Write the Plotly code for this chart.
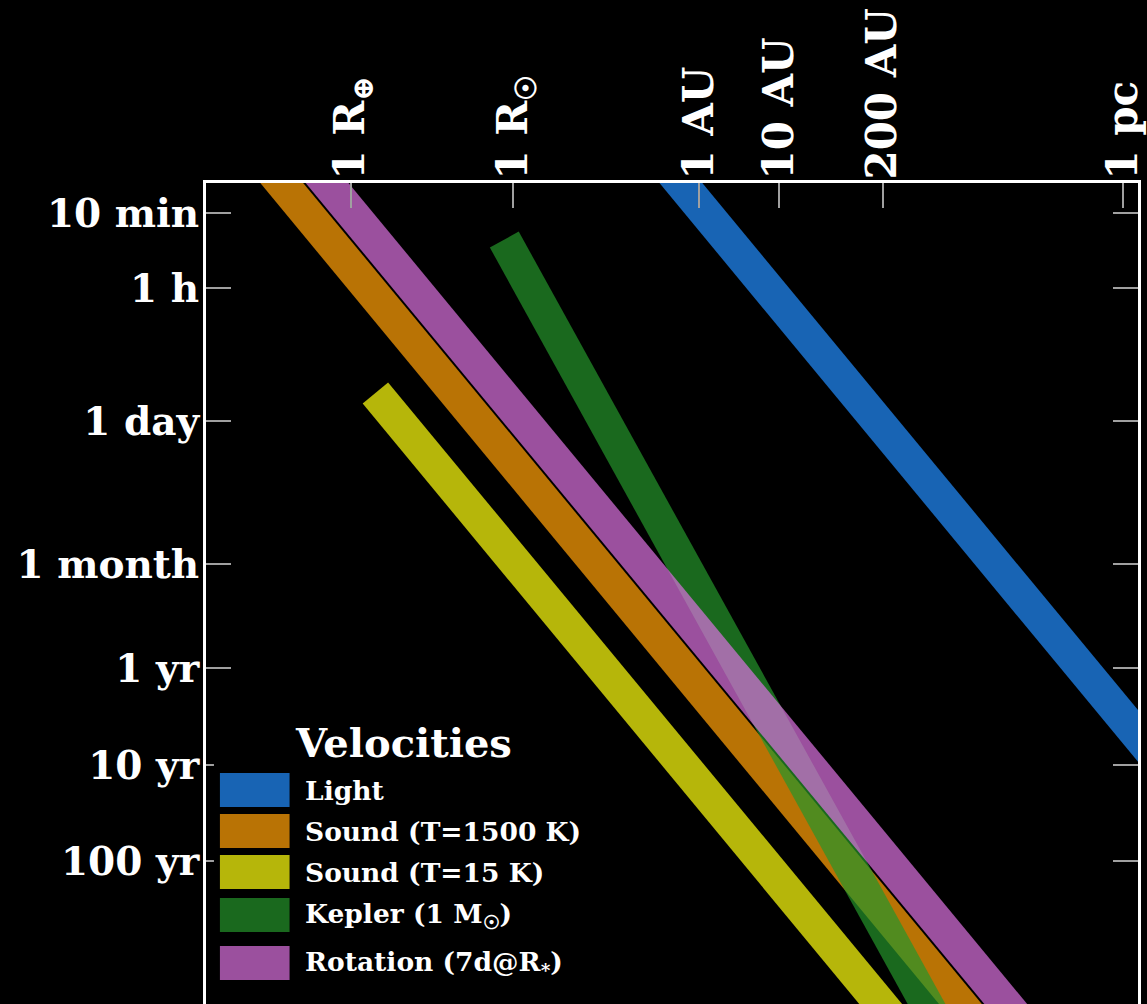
import plotly.graph_objects as go

# ---------------- data ----------------
# distance axis ticks (metres)
dist_tick_m = [6.371e6, 6.957e8, 1.496e11, 1.496e12, 2.992e13, 3.086e16]
dist_tick_labels = ["1 R<sub>⊕</sub>", "1 R<sub>☉</sub>", "1 AU", "10 AU", "200 AU", "1 pc"]

# time axis ticks (seconds)
time_tick_s = [600, 3600, 86400, 2.6298e6, 3.15576e7, 3.15576e8, 3.15576e9]
time_tick_labels = ["10 min", "1 h", "1 day", "1 month", "1 yr", "10 yr", "100 yr"]

# velocity bands: straight segments in log-log (start / end points)
series_names = ["Light", "Sound (T=1500 K)", "Sound (T=15 K)",
                "Kepler (1 M<sub>☉</sub>)", "Rotation (7d@R<sub>*</sub>)"]
dist_start_m = [1.0e10, 1.0e5, 1.30e7, 5.37e8, 1.0e6]
dist_end_m = [1.0e18, 1.0e16, 1.0e14, 2.4e14, 1.0e16]
time_start_s = [3.33e1, 3.37e1, 4.40e4, 1.13e3, 9.10e1]
time_end_s = [3.33e9, 3.37e12, 3.37e11, 3.23e11, 9.10e11]

colors = ["rgba(24,100,180,1)", "rgba(185,115,5,1)", "rgba(182,182,10,1)",
          "rgba(37,150,43,0.7)", "rgba(221,114,225,0.7)"]

# ---------------- figure ----------------
FONT = "DejaVu Serif"
W, H = 1147, 1004
ML, MR, MT, MB = 206, 4, 183, 0

fig = go.Figure()
for name, x0, x1, t0, t1, c in zip(series_names, dist_start_m, dist_end_m,
                                    time_start_s, time_end_s, colors):
    fig.add_trace(go.Scatter(
        x=[x0, x1], y=[t0, t1], mode="lines", name=name,
        line=dict(color=c, width=33), showlegend=False, hoverinfo="skip"))

fig.update_layout(
    width=W, height=H,
    margin=dict(l=ML, r=MR, t=MT, b=MB, pad=0),
    paper_bgcolor="black", plot_bgcolor="black",
    font=dict(family=FONT, color="white"),
    xaxis=dict(
        type="log", range=[4.99, 16.676], side="top",
        tickmode="array", tickvals=dist_tick_m, ticktext=dist_tick_labels,
        tickangle=-90, ticks="inside", ticklen=25, tickwidth=1.5,
        tickcolor="#a0a0a0", showgrid=False, zeroline=False,
        showline=True, linecolor="white", linewidth=3, mirror=False,
        tickfont=dict(family=FONT, size=42, color="white", weight="bold"),
        ticklabelstandoff=-8, ticklabeloverflow="allow",
    ),
    yaxis=dict(
        type="log", range=[10.977, 2.467],
        tickmode="array", tickvals=time_tick_s, ticktext=time_tick_labels,
        ticks="inside", ticklen=25, tickwidth=1.5, tickcolor="#a0a0a0",
        showgrid=False, zeroline=False,
        showline=True, linecolor="white", linewidth=3, mirror="ticks",
        tickfont=dict(family=FONT, size=39, color="white", weight="bold"),
        ticklabelstandoff=-4, ticklabeloverflow="allow",
    ),
)

# ---------------- legend (drawn in paper coordinates) ----------------
PX0, PX1, PY0, PY1 = ML, W - MR, MT, H - MB


def px(x):
    return (x - PX0) / (PX1 - PX0)


def py(y):
    return (PY1 - y) / (PY1 - PY0)


shapes = [dict(type="rect", xref="paper", yref="paper", layer="above",
               x0=px(214), x1=px(598), y0=py(996), y1=py(712),
               fillcolor="black", line=dict(width=0))]
annotations = [dict(text="Velocities", xref="paper", yref="paper",
                    x=px(405), y=py(742), xanchor="center", yanchor="middle",
                    showarrow=False,
                    font=dict(family=FONT, size=40, color="white", weight="bold"))]

row_tops = [773, 814, 855, 898, 946]
for name, c, top in zip(series_names, colors, row_tops):
    shapes.append(dict(type="rect", xref="paper", yref="paper", layer="above",
                       x0=px(220), x1=px(290), y0=py(top + 34), y1=py(top),
                       fillcolor=c, line=dict(width=0)))
    annotations.append(dict(text=name, xref="paper", yref="paper",
                            x=px(304), y=py(top + 17), xanchor="left", yanchor="middle",
                            showarrow=False,
                            font=dict(family=FONT, size=26.5, color="white", weight="bold")))

fig.update_layout(shapes=shapes, annotations=annotations)

fig.write_html(
    "out.html",
    config={"displayModeBar": False},
    post_script="document.body.style.margin='0';document.body.style.background='black';"
                "document.body.style.overflow='hidden';",
)
